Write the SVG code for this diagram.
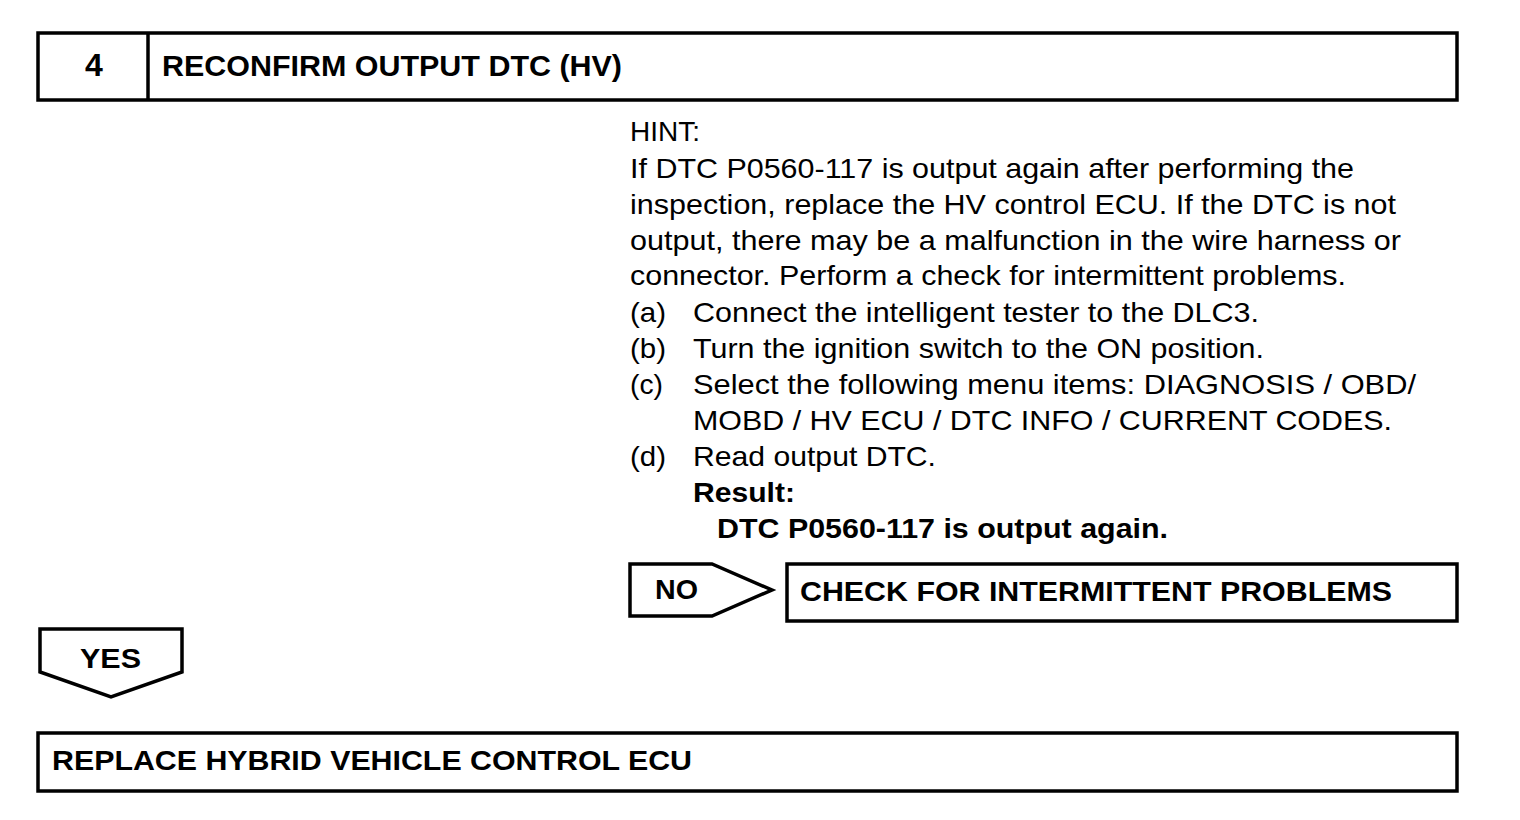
<svg xmlns="http://www.w3.org/2000/svg" width="1520" height="820" viewBox="0 0 1520 820">
<style>
.box{fill:#fff;stroke:#000;stroke-width:3.5}
.b{font-family:"Liberation Sans",Arial,sans-serif;font-weight:bold;font-size:28px;fill:#000}
.r{font-family:"Liberation Sans",Arial,sans-serif;font-size:28px;fill:#000}
</style>
<rect width="1520" height="820" fill="#fff"/>
<g id="header">
<rect class="box" x="38" y="33" width="1419" height="67"/>
<line x1="148" y1="33" x2="148" y2="100" stroke="#000" stroke-width="3.5"/>
<text class="b" x="94" y="76" text-anchor="middle" style="font-size:32px">4</text>
<text class="b" x="162" y="76" style="font-size:29px" textLength="460" lengthAdjust="spacingAndGlyphs">RECONFIRM OUTPUT DTC (HV)</text>
</g>
<g id="hint">
<text class="r" x="630" y="141">HINT:</text>
<text class="r" x="630" y="178" textLength="724" lengthAdjust="spacingAndGlyphs">If DTC P0560-117 is output again after performing the</text>
<text class="r" x="630" y="214" textLength="766" lengthAdjust="spacingAndGlyphs">inspection, replace the HV control ECU. If the DTC is not</text>
<text class="r" x="630" y="250" textLength="771" lengthAdjust="spacingAndGlyphs">output, there may be a malfunction in the wire harness or</text>
<text class="r" x="630" y="285" textLength="716" lengthAdjust="spacingAndGlyphs">connector. Perform a check for intermittent problems.</text>
<text class="r" x="630" y="322" textLength="36" lengthAdjust="spacingAndGlyphs">(a)</text>
<text class="r" x="693" y="322" textLength="566" lengthAdjust="spacingAndGlyphs">Connect the intelligent tester to the DLC3.</text>
<text class="r" x="630" y="358" textLength="36" lengthAdjust="spacingAndGlyphs">(b)</text>
<text class="r" x="693" y="358" textLength="571" lengthAdjust="spacingAndGlyphs">Turn the ignition switch to the ON position.</text>
<text class="r" x="630" y="394" textLength="33" lengthAdjust="spacingAndGlyphs">(c)</text>
<text class="r" x="693" y="394" textLength="723" lengthAdjust="spacingAndGlyphs">Select the following menu items: DIAGNOSIS / OBD/</text>
<text class="r" x="693" y="430" textLength="699" lengthAdjust="spacingAndGlyphs">MOBD / HV ECU / DTC INFO / CURRENT CODES.</text>
<text class="r" x="630" y="466" textLength="36" lengthAdjust="spacingAndGlyphs">(d)</text>
<text class="r" x="693" y="466" textLength="243" lengthAdjust="spacingAndGlyphs">Read output DTC.</text>
<text class="b" x="693" y="502" textLength="102" lengthAdjust="spacingAndGlyphs">Result:</text>
<text class="b" x="717" y="538" textLength="451" lengthAdjust="spacingAndGlyphs">DTC P0560-117 is output again.</text>
</g>
<g id="no">
<polygon class="box" points="630,564 712,564 772,590 712,616 630,616"/>
<text class="b" x="655" y="599" textLength="43" lengthAdjust="spacingAndGlyphs">NO</text>
</g>
<g id="check">
<rect class="box" x="787" y="564" width="670" height="57"/>
<text class="b" x="800" y="601" textLength="592" lengthAdjust="spacingAndGlyphs">CHECK FOR INTERMITTENT PROBLEMS</text>
</g>
<g id="yes">
<polygon class="box" points="40,629 182,629 182,672 111,697 40,672"/>
<text class="b" x="80" y="668" textLength="61" lengthAdjust="spacingAndGlyphs">YES</text>
</g>
<g id="replace">
<rect class="box" x="38" y="733" width="1419" height="58"/>
<text class="b" x="52" y="770" textLength="640" lengthAdjust="spacingAndGlyphs">REPLACE HYBRID VEHICLE CONTROL ECU</text>
</g>
<g id="connectors"></g>
</svg>
